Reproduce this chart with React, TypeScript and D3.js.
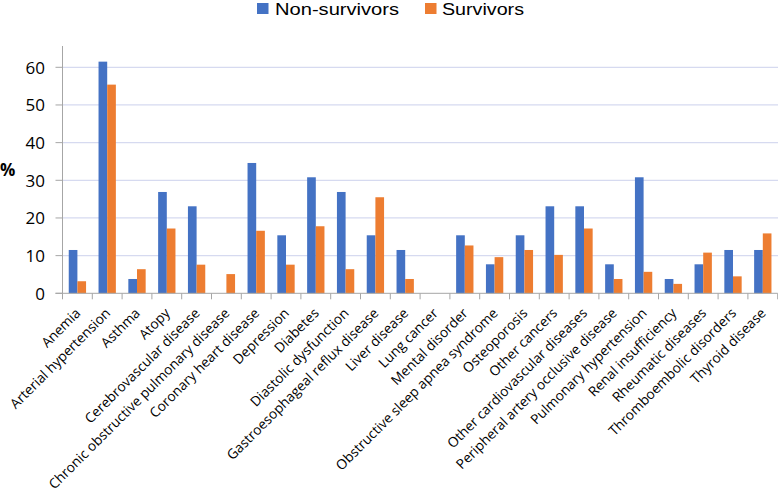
import React from "react";
import * as d3 from "d3";

const categories = [
  "Anemia",
  "Arterial hypertension",
  "Asthma",
  "Atopy",
  "Cerebrovascular disease",
  "Chronic obstructive pulmonary disease",
  "Coronary heart disease",
  "Depression",
  "Diabetes",
  "Diastolic dysfunction",
  "Gastroesophageal reflux disease",
  "Liver disease",
  "Lung cancer",
  "Mental disorder",
  "Obstructive sleep apnea syndrome",
  "Osteoporosis",
  "Other cancers",
  "Other cardiovascular diseases",
  "Peripheral artery occlusive disease",
  "Pulmonary hypertension",
  "Renal insufficiency",
  "Rheumatic diseases",
  "Thromboembolic disorders",
  "Thyroid disease",
];

const nonSurvivors = [
  11.5, 61.5, 3.8, 26.9, 23.1, 0, 34.6, 15.4, 30.8, 26.9, 15.4, 11.5, 0, 15.4,
  7.7, 15.4, 23.1, 23.1, 7.7, 30.8, 3.8, 7.7, 11.5, 11.5,
];

const survivors = [
  3.2, 55.4, 6.4, 17.2, 7.6, 5.1, 16.6, 7.6, 17.8, 6.4, 25.5, 3.8, 0, 12.7,
  9.6, 11.5, 10.2, 17.2, 3.8, 5.7, 2.5, 10.8, 4.5, 15.9,
];

const seriesNames = ["Non-survivors", "Survivors"];
const seriesColors = ["#4472C4", "#ED7D31"];
const yTicks = [0, 10, 20, 30, 40, 50, 60];

export default function App() {
  const W = 778;
  const H = 496;
  const left = 62.5;
  const right = 777.7;
  const y0 = 293.3;
  const yTop = 67.3;

  const x = d3.scaleBand<string>().domain(categories).range([left, right]).padding(0);
  const x1 = d3
    .scaleBand<string>()
    .domain(seriesNames)
    .range([0, x.bandwidth()])
    .paddingInner(0)
    .paddingOuter(0.72);
  const y = d3.scaleLinear().domain([0, 60]).range([y0, yTop]);

  const data = [nonSurvivors, survivors];
  const font = "'Open Sans', sans-serif";
  const legendFont = "'Liberation Sans', Arial, sans-serif";

  return (
    <div style={{ position: "absolute", left: 0, top: 0 }}>
      <svg width={W} height={H} style={{ display: "block", background: "#fff" }}>
        {/* gridlines */}
        {yTicks
          .filter((t) => t > 0)
          .map((t) => (
            <line
              key={"g" + t}
              x1={left}
              x2={W}
              y1={y(t)}
              y2={y(t)}
              stroke="#D6DAF0"
              strokeWidth={1.3}
            />
          ))}
        {/* y axis */}
        <line x1={left} x2={left} y1={46} y2={y0} stroke="#A6A6A6" strokeWidth={1} />
        {yTicks.map((t) => (
          <g key={"yt" + t}>
            <line x1={left - 7} x2={left} y1={y(t)} y2={y(t)} stroke="#A6A6A6" strokeWidth={1} />
            <text
              x={45}
              y={y(t)}
              textAnchor="end"
              dominantBaseline="central"
              fontFamily={font}
              fontSize={17}
              fill="#000"
            >
              {t}
            </text>
          </g>
        ))}
        <text
          x={0}
          y={169}
          dominantBaseline="central"
          fontFamily={font}
          fontSize={17}
          fontWeight="bold"
          fill="#000"
        >
          %
        </text>
        {/* bars */}
        {categories.map((c, i) => (
          <g key={"b" + c}>
            {data.map((s, k) =>
              s[i] > 0 ? (
                <rect
                  key={k}
                  x={(x(c) as number) + (x1(seriesNames[k]) as number)}
                  y={y(s[i])}
                  width={x1.bandwidth()}
                  height={y0 - y(s[i])}
                  fill={seriesColors[k]}
                />
              ) : null
            )}
          </g>
        ))}
        {/* x axis */}
        <line x1={left - 7} x2={right} y1={y0} y2={y0} stroke="#A6A6A6" strokeWidth={1} />
        {categories.map((c, i) => (
          <line
            key={"xt" + i}
            x1={x(c) as number}
            x2={x(c) as number}
            y1={y0}
            y2={y0 + 6}
            stroke="#A6A6A6"
            strokeWidth={1}
          />
        ))}
        <line x1={right} x2={right} y1={y0} y2={y0 + 6} stroke="#A6A6A6" strokeWidth={1} />
        {categories.map((c) => {
          const cx = (x(c) as number) + x.bandwidth() / 2;
          return (
            <text
              key={"xl" + c}
              transform={`translate(${cx + 4},${314}) rotate(-45)`}
              textAnchor="end"
              fontFamily={font}
              fontSize={13.7}
              fill="#000"
            >
              {c}
            </text>
          );
        })}
        {/* legend */}
        <rect x={257} y={3} width={11.5} height={11} fill={seriesColors[0]} />
        <text
          x={275}
          y={14.8}
          fontFamily={legendFont}
          fontSize={16}
          fill="#000"
          textLength={124}
          lengthAdjust="spacingAndGlyphs"
        >
          {seriesNames[0]}
        </text>
        <rect x={425} y={3} width={11.5} height={11} fill={seriesColors[1]} />
        <text
          x={442}
          y={14.8}
          fontFamily={legendFont}
          fontSize={16}
          fill="#000"
          textLength={82}
          lengthAdjust="spacingAndGlyphs"
        >
          {seriesNames[1]}
        </text>
      </svg>
    </div>
  );
}
